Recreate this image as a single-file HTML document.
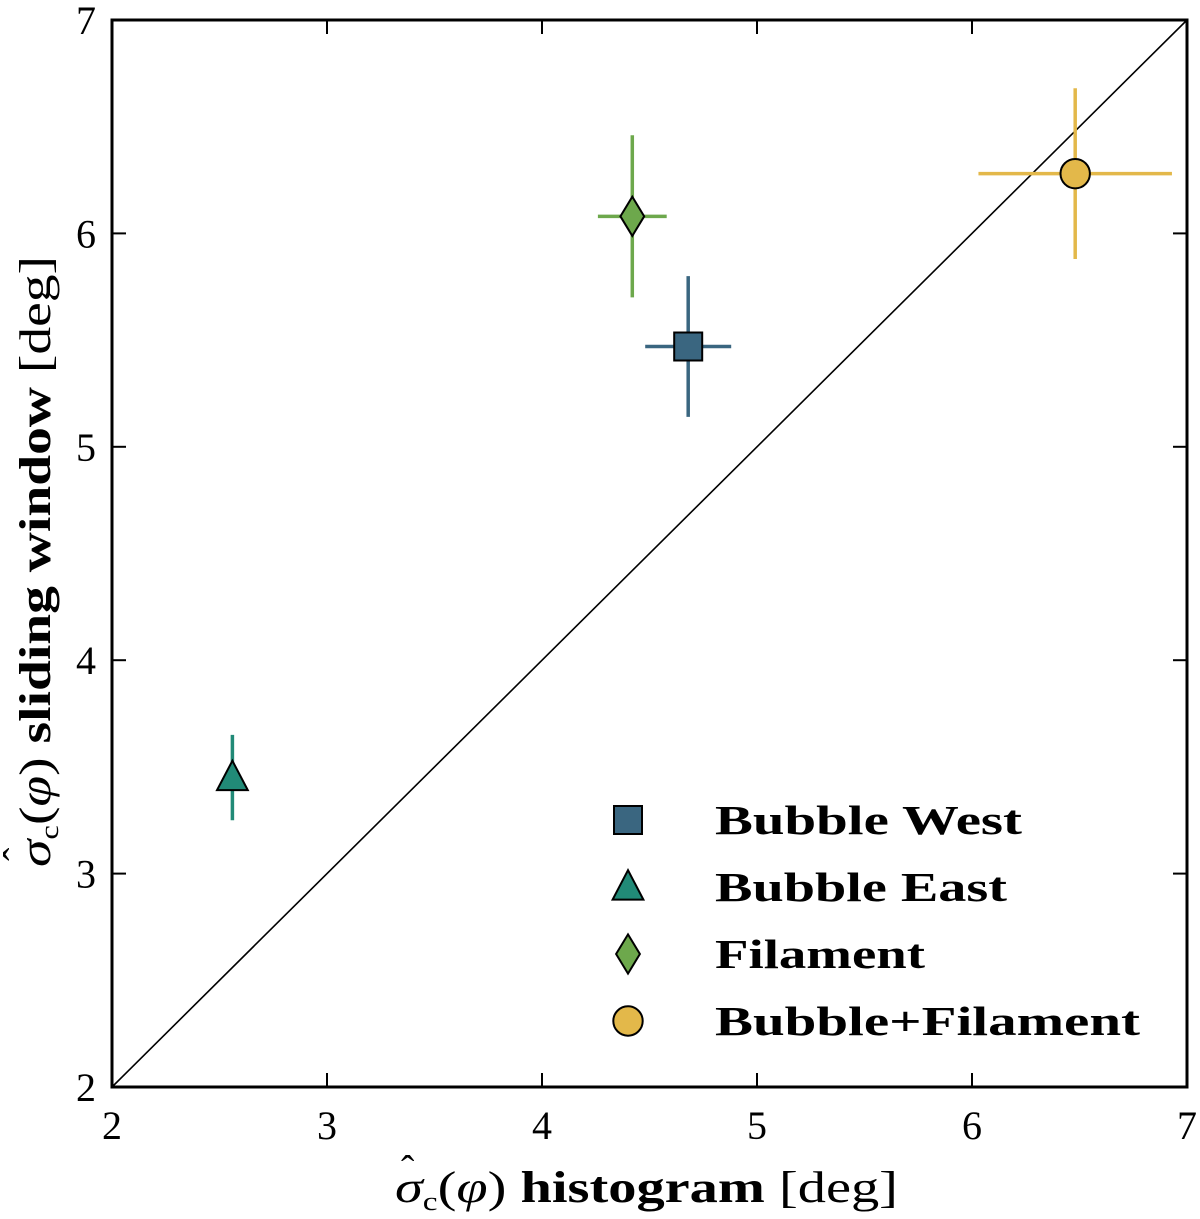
<!DOCTYPE html>
<html><head><meta charset="utf-8"><style>
body{margin:0;background:#fff}
svg{display:block;font-family:"Liberation Serif",serif}
</style></head><body>
<svg id="chart" width="1200" height="1219" viewBox="0 0 1200 1219" xmlns="http://www.w3.org/2000/svg"></svg>
<script>
const names=["Bubble West","Bubble East","Filament","Bubble+Filament"];
const xVals=[4.68,2.56,4.42,6.48];
const yVals=[5.47,3.45,6.08,6.28];
const xErr=[0.2,0,0.16,0.45];
const yErr=[0.33,0.2,0.38,0.40];
const colors=["#3a6680","#218a77","#6da84c","#e3b84a"];
const shapes=["square","triangle","diamond","circle"];
const legendLens=[307,292,210,425];
const xTicks=[2,3,4,5,6,7];
const yTicks=[2,3,4,5,6,7];

const NS="http://www.w3.org/2000/svg";
const svg=document.getElementById('chart');
const L=112,R=1187,T=20,B=1087;
const sx=v=>L+(v-2)/5*(R-L);
const sy=v=>B-(v-2)/5*(B-T);
function el(t,a,p){const e=document.createElementNS(NS,t);for(const k in a)e.setAttribute(k,a[k]);(p||svg).appendChild(e);return e;}

const diag=el('line',{x1:sx(2),y1:sy(2),x2:sx(7),y2:sy(7),stroke:'#000','stroke-width':1.6});



xTicks.forEach(t=>{
  const x=sx(t);
  el('line',{x1:x,y1:B,x2:x,y2:B-14,stroke:'#000','stroke-width':2});
  el('line',{x1:x,y1:T,x2:x,y2:T+14,stroke:'#000','stroke-width':2});
  const tx=el('text',{x:x,y:B+52,'text-anchor':'middle','font-size':40});
  tx.textContent=t;
  
  
});
yTicks.forEach(t=>{
  const y=sy(t);
  el('line',{x1:L,y1:y,x2:L+14,y2:y,stroke:'#000','stroke-width':2});
  el('line',{x1:R,y1:y,x2:R-14,y2:y,stroke:'#000','stroke-width':2});
  const tx=el('text',{x:L-16,y:y+14,'text-anchor':'end','font-size':40});
  tx.textContent=t;
  
  
});

function marker(shape,cx,cy,color,s,parent){
  let m;
  if(shape==='square')m=el('rect',{x:cx-s,y:cy-s,width:2*s,height:2*s},parent);
  else if(shape==='triangle')m=el('polygon',{points:`${cx},${cy-s*1.2} ${cx-s*1.1},${cy+s*0.9} ${cx+s*1.1},${cy+s*0.9}`},parent);
  else if(shape==='diamond')m=el('polygon',{points:`${cx},${cy-s*1.4} ${cx+s*0.85},${cy} ${cx},${cy+s*1.4} ${cx-s*0.85},${cy}`},parent);
  else m=el('circle',{cx:cx,cy:cy,r:s*1.05},parent);
  m.setAttribute('fill',color);m.setAttribute('stroke','#000');m.setAttribute('stroke-width',2);
  return m;
}

names.forEach((n,i)=>{
  const g=el('g',{});
  
  
  const cx=sx(xVals[i]),cy=sy(yVals[i]);
  if(xErr[i]>0)el('line',{x1:sx(xVals[i]-xErr[i]),y1:cy,x2:sx(xVals[i]+xErr[i]),y2:cy,stroke:colors[i],'stroke-width':3.5},g);
  el('line',{x1:cx,y1:sy(yVals[i]-yErr[i]),x2:cx,y2:sy(yVals[i]+yErr[i]),stroke:colors[i],'stroke-width':3.5},g);
  marker(shapes[i],cx,cy,colors[i],14,g);
});

const frame=el('rect',{x:L,y:T,width:R-L,height:B-T,fill:'none',stroke:'#000','stroke-width':3});



const leg=el('g',{});


names.forEach((n,i)=>{
  const y=820+i*67;
  const e=el('g',{},leg);
  
  
  marker(shapes[i],628,y,colors[i],14,e);
  const t=el('text',{x:715,y:y+14,'font-size':41,'font-weight':'bold',textLength:legendLens[i],lengthAdjust:'spacingAndGlyphs'},e);
  t.textContent=n;
});

const labelInner='<tspan font-style="italic">σ</tspan><tspan font-size="26" dy="8">c</tspan><tspan dy="-8">(</tspan><tspan font-style="italic">φ</tspan>) <tspan font-weight="bold">LABEL</tspan> [deg]';

const xg=el('g',{});


const xl=el('text',{x:395,y:1202,'font-size':44,textLength:503,lengthAdjust:'spacingAndGlyphs'},xg);
xl.innerHTML=labelInner.replace('LABEL','histogram');
const xh=el('text',{x:401,y:1183,'font-size':40},xg);
xh.textContent='ˆ';

const yg=el('g',{transform:'translate(50,867) rotate(-90)'});


const yl=el('text',{x:0,y:0,'font-size':44,textLength:611,lengthAdjust:'spacingAndGlyphs'},yg);
yl.innerHTML=labelInner.replace('LABEL','sliding window');
const yh=el('text',{x:6,y:-19,'font-size':40},yg);
yh.textContent='ˆ';
</script>
</body></html>
